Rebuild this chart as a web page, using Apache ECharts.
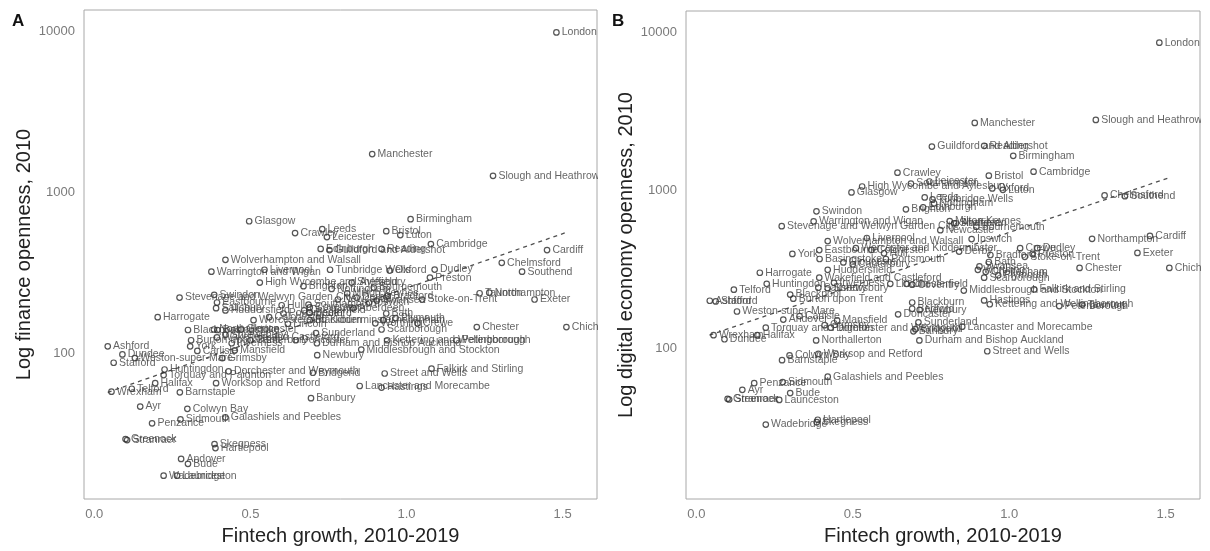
<!DOCTYPE html>
<html>
<head>
<meta charset="utf-8">
<script src="https://cdn.jsdelivr.net/npm/echarts@6/dist/echarts.min.js"></script>
<style>
  html, body { margin: 0; padding: 0; background: #ffffff; }
  #chart { width: 1210px; height: 551px; }
</style>
</head>
<body>
<div id="chart"></div>
<script>
// Travel-to-work areas: fintech growth 2010-2019 against openness in 2010
const cities = [
  'London', 'Manchester', 'Slough and Heathrow', 'Birmingham', 'Guildford and Aldershot',
  'Reading', 'Crawley', 'Bristol', 'Cambridge', 'Leeds',
  'Leicester', 'Luton', 'Edinburgh', 'Glasgow', 'High Wycombe and Aylesbury',
  'Oxford', 'Tunbridge Wells', 'Cardiff', 'Chelmsford', 'Southend',
  'Dudley', 'Preston', 'Stoke-on-Trent', 'Northampton', 'Exeter',
  'Chester', 'Chichester', 'Wolverhampton and Walsall', 'Warrington and Wigan', 'Liverpool',
  'Swindon', 'Stevenage and Welwyn Garden City', 'Harrogate', 'Worcester and Kidderminster', 'Basingstoke',
  'Blackpool', 'Wakefield and Castleford', 'York', 'Eastbourne', 'Huddersfield',
  'Huntingdon', 'Telford', 'Ashford', 'Stafford', 'Weston-super-Mare',
  'Dundee', 'Andover', 'Torquay and Paignton', 'Dorchester and Weymouth', 'Halifax',
  'Wrexham', 'Worksop and Retford', 'Colwyn Bay', 'Barnstaple', 'Ayr',
  'Sidmouth', 'Galashiels and Peebles', 'Penzance', 'Greenock', 'Stranraer',
  'Hartlepool', 'Skegness', 'Bude', 'Wadebridge', 'Launceston',
  'Middlesbrough and Stockton', 'Kettering and Wellingborough', 'Newbury', 'Falkirk and Stirling', 'Street and Wells',
  'Lancaster and Morecambe', 'Hastings', 'Banbury', 'Bridgend', 'Worthing',
  'Crewe', 'Bath', 'Cheltenham', 'Plymouth', 'Sheffield',
  'Bournemouth', 'Ipswich', 'Coventry', 'Chesterfield', 'Blackburn',
  'Sunderland', 'Durham and Bishop Auckland', 'Doncaster', 'Peterborough', 'Taunton',
  'Salisbury', 'Burton upon Trent', 'Northallerton', 'Portsmouth', 'Southampton',
  'Colchester', 'Canterbury', 'Newcastle', 'Nottingham', 'Derby',
  'Milton Keynes', 'Aberdeen', 'Swansea', 'Lincoln', 'Hull',
  'Brighton', 'Gloucester', 'Inverness', 'Bedford', 'Shrewsbury',
  'Mansfield', 'Scarborough', 'Grimsby', 'Carlisle', 'Bradford'
];

// Fintech growth, 2010-2019 (shared x value of both panels)
const fintechGrowth = [
  1.48, 0.89, 1.277, 1.013, 0.753,
  0.92, 0.643, 0.935, 1.078, 0.73,
  0.745, 0.98, 0.725, 0.496, 0.53,
  0.946, 0.755, 1.45, 1.305, 1.37,
  1.09, 1.075, 1.05, 1.265, 1.41,
  1.225, 1.512, 0.42, 0.375, 0.545,
  0.384, 0.273, 0.203, 0.51, 0.394,
  0.30, 0.393, 0.307, 0.393, 0.42,
  0.225, 0.12, 0.043, 0.062, 0.13,
  0.09, 0.278, 0.222, 0.43, 0.195,
  0.055, 0.39, 0.298, 0.274, 0.147,
  0.276, 0.42, 0.185, 0.1, 0.105,
  0.388, 0.385, 0.3, 0.222, 0.265,
  0.855, 0.938, 0.714, 1.08, 0.93,
  0.85, 0.92, 0.694, 0.70, 0.9,
  1.035, 0.935, 0.925, 0.965, 0.824,
  0.895, 0.88, 0.69, 0.672, 0.69,
  0.71, 0.713, 0.645, 1.16, 1.234,
  0.39, 0.31, 0.383, 0.606, 0.686,
  0.56, 0.5, 0.78, 0.76, 0.84,
  0.81, 0.83, 0.905, 0.62, 0.6,
  0.67, 0.47, 0.44, 0.69, 0.42,
  0.45, 0.92, 0.41, 0.33, 0.94
];

// Finance openness, 2010 (panel A)
const financeOpenness = [
  9800, 1720, 1260, 678, 436,
  443, 556, 571, 475, 588,
  525, 540, 443, 658, 274,
  325, 329, 436, 363, 320,
  330, 294, 215, 237, 215,
  145, 145, 379, 320, 329,
  230, 221, 167, 160, 139,
  139, 125, 110, 206, 184,
  79, 60, 110, 87, 93,
  98, 22, 73, 77, 65,
  57.5, 65, 45, 57, 46.5,
  38.7, 39.8, 36.6, 29.2, 28.8,
  25.7, 27.2, 20.5, 17.3, 17.3,
  105, 120, 97, 80, 74.6,
  62.4, 61, 52.4, 75.4, 153,
  153, 176, 160, 165, 274,
  255, 206, 192, 184, 160,
  133, 115, 120, 120, 235,
  190, 120, 140, 176, 200,
  167, 120, 215, 250, 221,
  235, 190, 212, 152, 198,
  260, 140, 115, 178, 130,
  104, 140, 93, 103, 227
];

// Digital economy openness, 2010 (panel B)
const digitalOpenness = [
  8650, 2680, 2800, 1660, 1900,
  1920, 1297, 1242, 1316, 904,
  1140, 1010, 781, 972, 1060,
  1030, 878, 515, 930, 920,
  431, 396, 380, 494, 402,
  323, 323, 478, 638, 500,
  738, 594, 301, 431, 368,
  219, 280, 396, 419, 314,
  256, 235, 200, 198, 171,
  114, 152, 135, 135, 121,
  121, 92, 90, 84, 54.5,
  61, 66, 60, 47.8, 47.3,
  35.2, 34, 52, 32.8, 47,
  232, 190, 175, 236, 95.7,
  137, 201, 128, 132, 314,
  431, 352, 305, 290, 620,
  590, 492, 253, 256, 195,
  146, 112, 164, 185, 189,
  242, 206, 112, 368, 1107,
  420, 340, 560, 830, 410,
  640, 620, 330, 256, 400,
  760, 350, 260, 178, 240,
  150, 280, 140, 160, 390
];

// Fitted trend lines (end points)
const financeTrendX = [0.043, 1.516];
const financeTrendY = [57, 565];
const digitalTrendX = [0.042, 1.516];
const digitalTrendY = [121, 1215];

// Axis tick labels
const growthTicks = [0, 0.5, 1, 1.5];

const FONT = 'Liberation Sans, Arial, Helvetica, sans-serif';

function points(values) {
  return cities.map((name, i) => ({ name: name, value: [fintechGrowth[i], values[i]] }));
}
function trend(xs, ys) {
  return xs.map((x, i) => [x, ys[i]]);
}

function growthAxis(gridIndex) {
  return {
    type: 'value', gridIndex: gridIndex,
    min: -0.033, max: 1.61,
    axisLine: { show: false }, axisTick: { show: false }, splitLine: { show: false },
    axisLabel: {
      customValues: growthTicks,
      formatter: v => Number(v).toFixed(1),
      color: '#7a7a7a', fontSize: 13, margin: 9, fontFamily: FONT
    },
    name: 'Fintech growth, 2010-2019',
    nameLocation: 'middle', nameGap: 27,
    nameTextStyle: { fontSize: 20, color: '#222222', fontFamily: FONT }
  };
}

function opennessAxis(gridIndex, min, max, title, z) {
  return {
    type: 'log', logBase: 10, gridIndex: gridIndex,
    min: min, max: max, z: z,
    axisLine: { show: false }, axisTick: { show: false }, splitLine: { show: false },
    axisLabel: {
      showMinLabel: false, showMaxLabel: false,
      formatter: v => String(Math.round(v)),
      color: '#7a7a7a', fontSize: 13, margin: 9, fontFamily: FONT
    },
    name: title,
    nameLocation: 'middle', nameGap: 50, nameRotate: 90,
    nameTextStyle: { fontSize: 20, color: '#222222', fontFamily: FONT }
  };
}

function scatterSeries(idx, values) {
  return {
    type: 'scatter', xAxisIndex: idx, yAxisIndex: idx,
    data: points(values),
    symbol: 'circle', symbolSize: 5.5,
    itemStyle: { color: 'rgba(255,255,255,0)', borderColor: '#2b2b2b', borderWidth: 1.2 },
    label: {
      show: true, position: 'right', distance: 2,
      formatter: '{b}', fontSize: 10.5, color: '#3d3d3d', fontFamily: FONT
    },
    emphasis: { disabled: true },
    silent: true, z: 3
  };
}

function trendSeries(idx, xs, ys) {
  return {
    type: 'line', xAxisIndex: idx, yAxisIndex: idx,
    data: trend(xs, ys),
    symbol: 'none',
    lineStyle: { type: [4, 4], color: '#505050', width: 1.3 },
    silent: true, z: 2
  };
}

const chart = echarts.init(document.getElementById('chart'), null, { renderer: 'canvas' });

chart.setOption({
  animation: false,
  backgroundColor: '#ffffff',
  grid: [
    { left: 84, top: 10, width: 513, height: 493, show: true, borderColor: '#a8a8a8', borderWidth: 1, backgroundColor: 'rgba(0,0,0,0)' },
    { left: 686, top: 11, width: 514, height: 492, show: true, borderColor: '#a8a8a8', borderWidth: 1, backgroundColor: 'rgba(0,0,0,0)' }
  ],
  xAxis: [growthAxis(0), growthAxis(1)],
  yAxis: [
    opennessAxis(0, 12.4, 13500, 'Log finance openness, 2010', 0),
    opennessAxis(1, 11.07, 13740, 'Log digital economy openness, 2010', 150)
  ],
  series: [
    trendSeries(0, financeTrendX, financeTrendY),
    scatterSeries(0, financeOpenness),
    trendSeries(1, digitalTrendX, digitalTrendY),
    scatterSeries(1, digitalOpenness)
  ],
  graphic: [
    // keep point labels inside each panel frame
    { type: 'rect', z: 100, silent: true, shape: { x: 598, y: 30, width: 28, height: 480 }, style: { fill: '#ffffff' } },
    { type: 'rect', z: 100, silent: true, shape: { x: 1201, y: 0, width: 9, height: 510 }, style: { fill: '#ffffff' } },
    { type: 'text', z: 101, left: 12, top: 13, style: { text: 'A', font: 'bold 17px ' + FONT, fill: '#111111' } },
    { type: 'text', z: 101, left: 612, top: 13, style: { text: 'B', font: 'bold 17px ' + FONT, fill: '#111111' } }
  ]
});
</script>
</body>
</html>
